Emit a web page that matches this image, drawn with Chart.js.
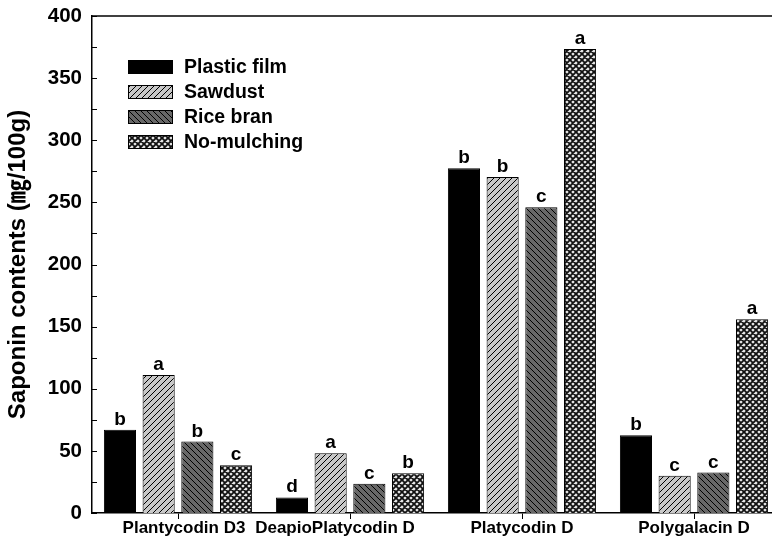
<!DOCTYPE html>
<html>
<head>
<meta charset="utf-8">
<script src="https://cdn.jsdelivr.net/npm/chart.js@4.4.1/dist/chart.umd.min.js"></script>
<style>
  html, body { margin: 0; padding: 0; overflow: hidden; background: #fff; width: 772px; height: 552px; }
  canvas { display: block; }
</style>
</head>
<body>
<canvas id="c" width="781" height="552"></canvas>
<script>
// Saponin contents by mulching treatment
const categories = ['Plantycodin D3', 'DeapioPlatycodin D', 'Platycodin D', 'Polygalacin D'];
const seriesNames = ['Plastic film', 'Sawdust', 'Rice bran', 'No-mulching'];

const plasticFilm = [67, 12.5, 277.5, 62.5];
const sawdust     = [111, 48, 270.5, 30];
const riceBran    = [57.5, 23.5, 246, 32.5];
const noMulching  = [38.5, 32, 373.5, 156];

// significance letters (Duncan grouping) for each series
const plasticFilmLetters = ['b', 'd', 'b', 'b'];
const sawdustLetters     = ['a', 'a', 'b', 'c'];
const riceBranLetters    = ['b', 'c', 'c', 'c'];
const noMulchingLetters  = ['c', 'b', 'a', 'a'];

const yMin = 0, yMax = 400, yStep = 25, yLabelStep = 50;
const yTitle = 'Saponin contents (\u338E/100g)';

// small horizontal nudges for the category captions (px)
const captionNudge = [6, -15, 0, 0];

const FONT = "'Liberation Sans', Arial, 'Noto Sans CJK KR', sans-serif";

// fill patterns
function makePattern(bg, dirs, lineColor, lw, size) {
  const c = document.createElement('canvas');
  c.width = c.height = size;
  const g = c.getContext('2d');
  g.fillStyle = bg;
  g.fillRect(0, 0, size, size);
  g.strokeStyle = lineColor;
  g.lineWidth = lw;
  g.beginPath();
  for (const d of dirs) {
    for (const o of [-size, 0, size]) {
      if (d === '/') { g.moveTo(o, size); g.lineTo(o + size, 0); }
      else { g.moveTo(o, 0); g.lineTo(o + size, size); }
    }
  }
  g.stroke();
  return g.createPattern(c, 'repeat');
}

const ctx = document.getElementById('c').getContext('2d');
const fills = [
  '#000000',
  makePattern('#c8c8c8', ['/'], '#000', 1, 6),
  makePattern('#686868', ['\\'], '#000', 1, 6),
  makePattern('#e8e8e8', ['/', '\\'], '#111', 1.8, 6)
];

const seriesValues = [plasticFilm, sawdust, riceBran, noMulching];
const seriesLetters = [plasticFilmLetters, sawdustLetters, riceBranLetters, noMulchingLetters];

const datasets = seriesNames.map((name, i) => ({
  label: name,
  data: seriesValues[i],
  backgroundColor: fills[i],
  borderColor: '#000',
  borderWidth: 1
}));

// inward y ticks, top frame line, captions, significance letters, inset legend
const decorations = {
  id: 'decorations',
  afterDatasetsDraw(chart) {
    const c = chart.ctx;
    c.save();
    c.fillStyle = '#000';
    c.font = 'bold 19px ' + FONT;
    c.textAlign = 'center';
    c.textBaseline = 'alphabetic';
    chart.data.datasets.forEach((ds, i) => {
      const meta = chart.getDatasetMeta(i);
      meta.data.forEach((bar, j) => {
        c.fillText(seriesLetters[i][j], bar.x, bar.y - 5);
      });
    });
    c.restore();
  },
  afterDraw(chart) {
    const c = chart.ctx;
    const area = chart.chartArea;
    const x = chart.scales.x;
    const y = chart.scales.y;
    c.save();
    c.strokeStyle = '#000';
    c.lineWidth = 1;
    c.beginPath();
    y.ticks.forEach(t => {
      const py = Math.round(y.getPixelForValue(t.value)) + 0.5;
      c.moveTo(area.left, py);
      c.lineTo(area.left + 5, py);
    });
    c.stroke();

    c.lineWidth = 1.5;
    c.beginPath();
    c.moveTo(area.left, area.top);
    c.lineTo(area.right, area.top);
    c.stroke();

    // category captions
    c.fillStyle = '#000';
    c.font = 'bold 17px ' + FONT;
    c.textAlign = 'center';
    c.textBaseline = 'middle';
    categories.forEach((name, i) => {
      c.fillText(name, x.getPixelForValue(i) + captionNudge[i], area.bottom + 15);
    });

    // legend
    const bx = 128, bw = 45, bh = 14, top0 = 60, rowGap = 25;
    c.font = 'bold 19.5px ' + FONT;
    c.textAlign = 'left';
    c.textBaseline = 'middle';
    chart.data.datasets.forEach((ds, i) => {
      const ty = top0 + i * rowGap;
      c.fillStyle = ds.backgroundColor;
      c.fillRect(bx, ty, bw, bh);
      c.lineWidth = 1;
      c.strokeStyle = '#000';
      c.strokeRect(bx + 0.5, ty + 0.5, bw - 1, bh - 1);
      c.fillStyle = '#000';
      c.fillText(ds.label, bx + bw + 11, ty + bh / 2 + 1);
    });
    c.restore();
  }
};

new Chart(ctx, {
  type: 'bar',
  data: { labels: categories, datasets },
  options: {
    responsive: false,
    animation: false,
    layout: { padding: { top: 16, right: 1, bottom: 0, left: 0 } },
    datasets: { bar: { categoryPercentage: 0.9, barPercentage: 0.83 } },
    plugins: { legend: { display: false }, tooltip: { enabled: false } },
    scales: {
      x: {
        grid: { display: true, drawOnChartArea: false, drawTicks: true, tickLength: 6, offset: false, color: '#000', lineWidth: 1 },
        border: { display: true, color: '#000', width: 1.5 },
        ticks: { display: false },
        afterFit: s => { s.height = 39; }
      },
      y: {
        min: yMin,
        max: yMax,
        grid: { display: false },
        border: { display: true, color: '#000', width: 1.5 },
        ticks: {
          stepSize: yStep,
          color: '#000',
          font: { family: FONT, size: 20.5, weight: 'bold' },
          padding: 2,
          callback: v => (v % yLabelStep === 0 ? v : '')
        },
        title: {
          display: true,
          text: yTitle,
          color: '#000',
          font: { family: FONT, size: 24, weight: 'bold', lineHeight: 1 },
          padding: { top: 6, bottom: 0 }
        },
        afterFit: s => { s.width = 92; }
      }
    }
  },
  plugins: [decorations]
});
</script>
</body>
</html>
